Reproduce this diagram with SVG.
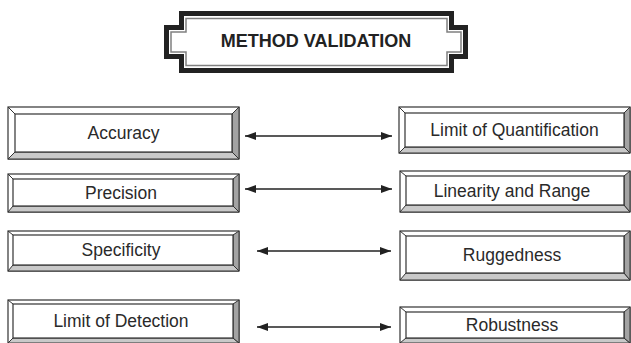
<svg xmlns="http://www.w3.org/2000/svg" width="631" height="343" viewBox="0 0 631 343">
<style>
.o{fill:#fff;stroke:#333;stroke-width:1.2}
.bb{fill:#c9c9c9;stroke:#333;stroke-width:1}
.br{fill:#a3a3a3;stroke:#333;stroke-width:1}
.i{fill:#fff;stroke:#333;stroke-width:1.2}
.d{stroke:#333;stroke-width:1}
.t{font-family:"Liberation Sans",Arial,sans-serif;font-size:17.5px;fill:#2a2a2a;text-anchor:middle}
.tt{font-family:"Liberation Sans",Arial,sans-serif;font-size:18px;font-weight:bold;fill:#222;text-anchor:middle}
.a{stroke:#222;stroke-width:1.3;fill:none;marker-start:url(#ah);marker-end:url(#ah)}
</style>
<defs>
<marker id="ah" viewBox="0 0 11 8" refX="11" refY="4" markerWidth="11" markerHeight="8" markerUnits="userSpaceOnUse" orient="auto-start-reverse">
<path d="M0,0 L11,4 L0,8 z" fill="#222"/>
</marker>
</defs>

<g id="title">
<path d="M181.5,13.5 H451.5 V27.5 H465.5 V56.5 H451.5 V70.5 H181.5 V56.5 H166.5 V27.5 H181.5 Z" fill="#fff" stroke="#222" stroke-width="5"/>
<path d="M186,18.5 H447 V32 H461 V52 H447 V65.5 H186 V52 H171 V32 H186 Z" fill="none" stroke="#808080" stroke-width="1.5"/>
<text class="tt" x="316" y="47">METHOD VALIDATION</text>
</g>

<g id="accuracy">
<rect class="o" x="8" y="107" width="231" height="52"/>
<polygon class="bb" points="8,159 239,159 232,152 15,152"/>
<polygon class="br" points="239,107 239,159 232,152 232,114"/>
<rect class="i" x="15" y="114" width="217" height="38"/>
<line class="d" x1="8" y1="107" x2="15" y2="114"/>
<text class="t" x="123.5" y="139">Accuracy</text>
</g>

<g id="loq">
<rect class="o" x="399" y="107" width="231" height="46"/>
<polygon class="bb" points="399,153 630,153 624,147 405,147"/>
<polygon class="br" points="630,107 630,153 624,147 624,113"/>
<rect class="i" x="405" y="113" width="219" height="34"/>
<line class="d" x1="399" y1="107" x2="405" y2="113"/>
<text class="t" x="514.5" y="136">Limit of Quantification</text>
</g>

<g id="precision">
<rect class="o" x="8" y="174" width="231" height="38"/>
<polygon class="bb" points="8,212 239,212 233,206 13,206"/>
<polygon class="br" points="239,174 239,212 233,206 233,179"/>
<rect class="i" x="13" y="179" width="220" height="27"/>
<line class="d" x1="8" y1="174" x2="13" y2="179"/>
<text class="t" x="121" y="198.5">Precision</text>
</g>

<g id="linearity">
<rect class="o" x="400" y="171" width="230" height="41"/>
<polygon class="bb" points="400,212 630,212 624,205 406,205"/>
<polygon class="br" points="630,171 630,212 624,205 624,176"/>
<rect class="i" x="406" y="176" width="218" height="29"/>
<line class="d" x1="400" y1="171" x2="406" y2="176"/>
<text class="t" x="512" y="196.5">Linearity and Range</text>
</g>

<g id="specificity">
<rect class="o" x="8" y="231" width="231" height="40"/>
<polygon class="bb" points="8,271 239,271 233,265 13,265"/>
<polygon class="br" points="239,231 239,271 233,265 233,235"/>
<rect class="i" x="13" y="235" width="220" height="30"/>
<line class="d" x1="8" y1="231" x2="13" y2="235"/>
<text class="t" x="121" y="256">Specificity</text>
</g>

<g id="ruggedness">
<rect class="o" x="400" y="231" width="230" height="49"/>
<polygon class="bb" points="400,280 630,280 624,273 406,273"/>
<polygon class="br" points="630,231 630,280 624,273 624,236"/>
<rect class="i" x="406" y="236" width="218" height="37"/>
<line class="d" x1="400" y1="231" x2="406" y2="236"/>
<text class="t" x="512" y="261">Ruggedness</text>
</g>

<g id="lod">
<rect class="o" x="8" y="300" width="231" height="43"/>
<polygon class="bb" points="8,343 239,343 233,338 13,338"/>
<polygon class="br" points="239,300 239,343 233,338 233,304"/>
<rect class="i" x="13" y="304" width="220" height="34"/>
<line class="d" x1="8" y1="300" x2="13" y2="304"/>
<text class="t" x="121" y="327">Limit of Detection</text>
</g>

<g id="robustness">
<rect class="o" x="400" y="307" width="230" height="36"/>
<polygon class="bb" points="400,343 630,343 624,338 406,338"/>
<polygon class="br" points="630,307 630,343 624,338 624,312"/>
<rect class="i" x="406" y="312" width="218" height="26"/>
<line class="d" x1="400" y1="307" x2="406" y2="312"/>
<text class="t" x="512" y="331">Robustness</text>
</g>

<g id="connectors">
<line class="a" x1="245" y1="136" x2="392" y2="136"/>
<line class="a" x1="245" y1="189" x2="392" y2="189"/>
<line class="a" x1="257" y1="251" x2="391" y2="251"/>
<line class="a" x1="257" y1="327" x2="391" y2="327"/>
</g>
</svg>
